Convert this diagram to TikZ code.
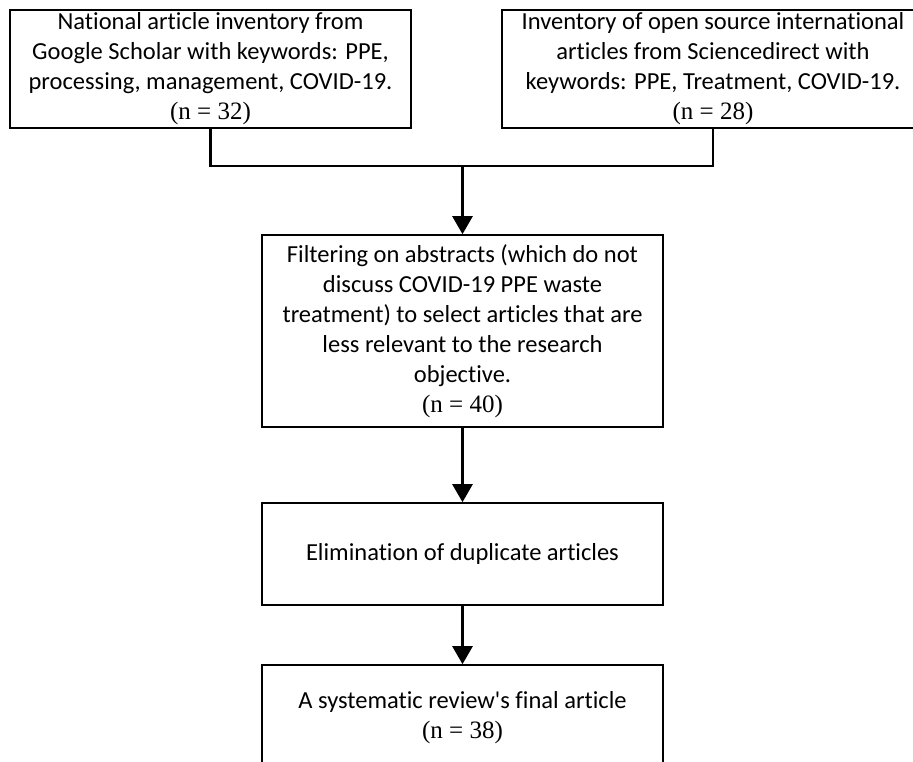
\documentclass[tikz,border=0pt]{standalone}
\usepackage{fontspec}
\setmainfont{Carlito}[Ligatures={TeXOff,NoCommon}]
\newfontfamily\nfont{Liberation Serif}
\usetikzlibrary{arrows.meta}
\tikzset{
  box/.style={draw=black, line width=1.6pt, inner sep=0pt, align=center,
    font=\fontsize{24.5}{30}\selectfont},
  conn/.style={draw=black, line width=2.6pt},
  arr/.style={conn, -{Triangle[width=20pt,length=18pt]}},
}
\newcommand{\nval}[1]{{\nfont\fontsize{25}{30}\selectfont (n = #1)}}
\begin{document}
\begin{tikzpicture}[x=1pt,y=-1pt]
\useasboundingbox (0,0) rectangle (913,762);
\clip (0,0) rectangle (913,762);
\fill[white] (0,0) rectangle (913,762);
\node[box, minimum width=401pt, minimum height=118pt] (b1) at (210.5,69)
  {National article inventory from\\Google Scholar with keywords: PPE,\\processing, management, COVID-19.\\\nval{32}};
\node[box, minimum width=422pt, minimum height=118pt] (b2) at (713,69)
  {Inventory of open source international\\articles from Sciencedirect with\\keywords: PPE, Treatment, COVID-19.\\\nval{28}};
\node[box, minimum width=401pt, minimum height=192pt] (b3) at (462.5,331)
  {Filtering on abstracts (which do not\\discuss COVID-19 PPE waste\\treatment) to select articles that are\\less relevant to the research\\objective.\\\nval{40}};
\node[box, minimum width=401pt, minimum height=102pt] (b4) at (462.5,554)
  {Elimination of duplicate articles};
\node[box, minimum width=401pt, minimum height=105pt] (b5) at (462.5,717.5)
  {A systematic review's final article\\\nval{38}};
\coordinate (j) at (462.5,166);
\draw[conn] (b1.south) |- (j);
\draw[conn] (b2.south) |- (j);
\draw[arr] (j) -- (b3.north);
\draw[arr] (b3.south) -- (b4.north);
\draw[arr] (b4.south) -- (b5.north);
\end{tikzpicture}
\end{document}
